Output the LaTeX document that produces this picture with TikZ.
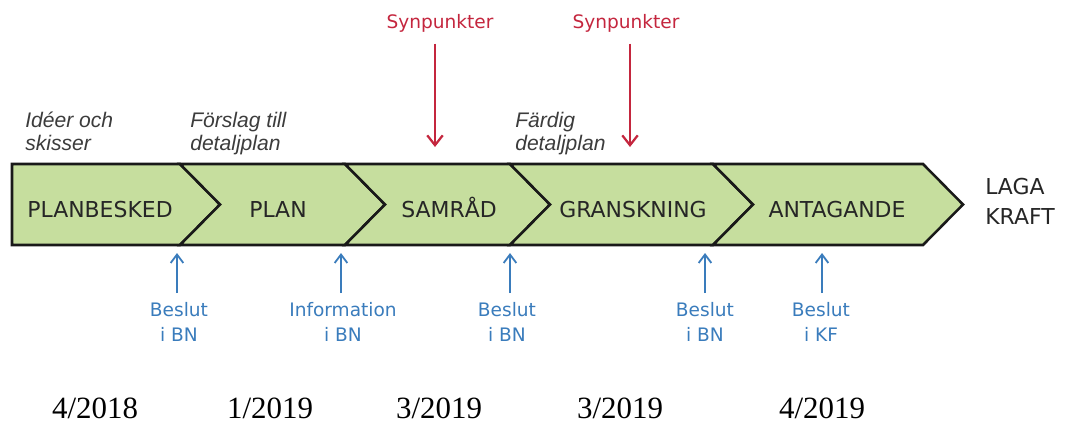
\documentclass[tikz,border=0pt]{standalone}
\usepackage{fontspec}
\usetikzlibrary{arrows.meta}
\newfontfamily\stagefont{DejaVu Sans}
\newfontfamily\notefont{Liberation Sans}
\newfontfamily\datefont{Liberation Serif}
\definecolor{stagegreen}{RGB}{198,222,158}
\definecolor{bnblue}{RGB}{58,124,188}
\definecolor{synred}{RGB}{196,38,62}
\definecolor{notegray}{RGB}{60,60,60}

\begin{document}
\begin{tikzpicture}[x=0.025cm,y=-0.025cm,
  stage/.style={draw=black!90,line width=1.8pt,fill=stagegreen,line join=miter},
  stagetext/.style={anchor=base,font=\stagefont\fontsize{15.6}{18}\selectfont,text=black!85},
  note/.style={anchor=north west,align=left,font=\notefont\itshape\fontsize{15}{16.4}\selectfont,text=notegray,inner sep=0pt},
  syn/.style={font=\stagefont\fontsize{13.2}{15}\selectfont,text=synred,inner sep=1pt},
  synarrow/.style={draw=synred,line width=1.6pt,shorten <=7pt,-{Straight Barb[length=7pt,width=11pt]}},
  bn/.style={anchor=north,align=center,font=\stagefont\fontsize{13.2}{17.8}\selectfont,text=bnblue,inner sep=0pt},
  bnarrow/.style={draw=bnblue,line width=1.3pt,shorten <=6.4pt,-{Straight Barb[length=6pt,width=9pt]}},
  date/.style={anchor=base,inner sep=0pt,font=\datefont\fontsize{22}{24}\selectfont}]

\useasboundingbox (0,0) rectangle (1074,423);

\draw[stage] (12,164) -- (180,164) -- (220,204.5) -- (180,245) -- (12,245) -- cycle;
\draw[stage] (180,164) -- (345,164) -- (385,204.5) -- (345,245) -- (180,245) -- (220,204.5) -- cycle;
\draw[stage] (345,164) -- (510,164) -- (550,204.5) -- (510,245) -- (345,245) -- (385,204.5) -- cycle;
\draw[stage] (510,164) -- (713,164) -- (753,204.5) -- (713,245) -- (510,245) -- (550,204.5) -- cycle;
\draw[stage] (713,164) -- (923,164) -- (963,204.5) -- (923,245) -- (713,245) -- (753,204.5) -- cycle;

\node[stagetext] (planbesked) at (100,217) {PLANBESKED};
\node[stagetext] (plan) at (278,217) {PLAN};
\node[stagetext] (samrad) at (449,217) {SAMRÅD};
\node[stagetext] (granskning) at (633,217) {GRANSKNING};
\node[stagetext] (antagande) at (837,217) {ANTAGANDE};
\node[stagetext,anchor=north west,align=left,inner sep=0pt,font=\stagefont\fontsize{15.6}{21}\selectfont] (laga) at (985,178) {LAGA\\KRAFT};

\node[note] (ideer) at (25,112) {Idéer och\\skisser};
\node[note] (forslag) at (190,112) {Förslag till\\detaljplan};
\node[note] (fardig) at (515,112) {Färdig\\detaljplan};

\node[syn] (syn1) at (440,23) {Synpunkter};
\node[syn] (syn2) at (626,23) {Synpunkter};
\coordinate (r1) at (435,147);
\coordinate (r2) at (630,147);
\draw[synarrow] (syn1.south -| r1) -- (r1);
\draw[synarrow] (syn2.south -| r2) -- (r2);

\node[bn] (bn1) at (179,302) {Beslut\\i BN};
\node[bn] (bn2) at (343,302) {Information\\i BN};
\node[bn] (bn3) at (507,302) {Beslut\\i BN};
\node[bn] (bn4) at (705,302) {Beslut\\i BN};
\node[bn] (bn5) at (821,302) {Beslut\\i KF};
\coordinate (u1) at (177,253);
\coordinate (u2) at (341,253);
\coordinate (u3) at (510,253);
\coordinate (u4) at (705,253);
\coordinate (u5) at (822,253);
\draw[bnarrow] (bn1.north -| u1) -- (u1);
\draw[bnarrow] (bn2.north -| u2) -- (u2);
\draw[bnarrow] (bn3.north -| u3) -- (u3);
\draw[bnarrow] (bn4.north -| u4) -- (u4);
\draw[bnarrow] (bn5.north -| u5) -- (u5);

\node[date] (d1) at (95,418) {4/2018};
\node[date] (d2) at (270,418) {1/2019};
\node[date] (d3) at (439,418) {3/2019};
\node[date] (d4) at (620,418) {3/2019};
\node[date] (d5) at (822,418) {4/2019};

\end{tikzpicture}
\end{document}
